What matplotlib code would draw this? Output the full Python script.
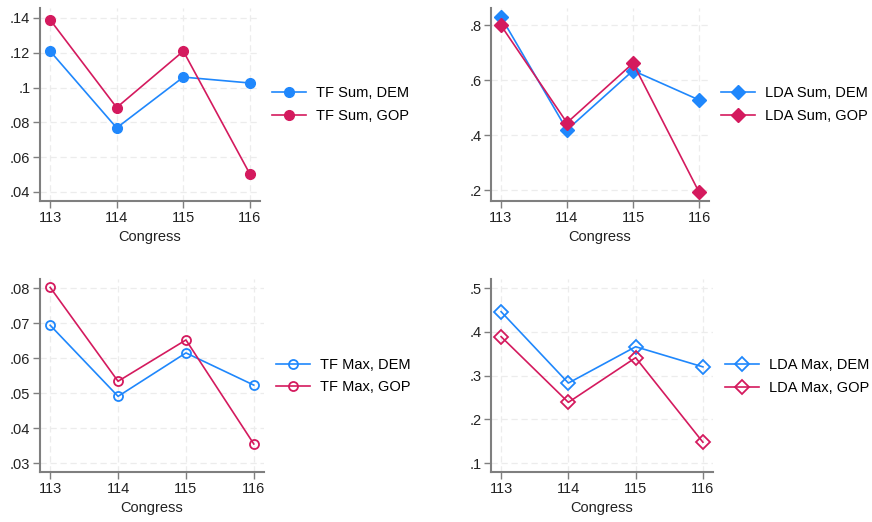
import matplotlib.pyplot as plt

plt.rcParams['font.family'] = ['Liberation Sans', 'DejaVu Sans']

congress = [113, 114, 115, 116]

tf_sum_dem = [0.121, 0.0768, 0.106, 0.1026]
tf_sum_gop = [0.139, 0.0885, 0.1209, 0.0502]
lda_sum_dem = [0.831, 0.419, 0.635, 0.528]
lda_sum_gop = [0.800, 0.445, 0.662, 0.192]
tf_max_dem = [0.0694, 0.0491, 0.0615, 0.0523]
tf_max_gop = [0.0802, 0.0534, 0.0652, 0.0355]
lda_max_dem = [0.446, 0.283, 0.366, 0.320]
lda_max_gop = [0.389, 0.239, 0.341, 0.148]

tf_sum_ticks = [0.04, 0.06, 0.08, 0.10, 0.12, 0.14]
tf_sum_labels = ['.04', '.06', '.08', '.1', '.12', '.14']
lda_sum_ticks = [0.2, 0.4, 0.6, 0.8]
lda_sum_labels = ['.2', '.4', '.6', '.8']
tf_max_ticks = [0.03, 0.04, 0.05, 0.06, 0.07, 0.08]
tf_max_labels = ['.03', '.04', '.05', '.06', '.07', '.08']
lda_max_ticks = [0.1, 0.2, 0.3, 0.4, 0.5]
lda_max_labels = ['.1', '.2', '.3', '.4', '.5']

BLUE = '#1f87fc'
RED = '#d41a5e'
W, H = 872, 522

fig = plt.figure(figsize=(W / 100, H / 100), dpi=100)


def px_axes(x0, y0, x1, y1):
    # pixel box (top-left origin) -> figure axes
    return fig.add_axes([x0 / W, 1 - y1 / H, (x1 - x0) / W, (y1 - y0) / H])


def panel(box, dem, gop, name, marker, hollow, ticks, labels, ylim, leg_xy):
    ax = px_axes(*box)
    ms = 7 if not hollow else 6.5
    if marker == 'D':
        ms = 7.5 if not hollow else 7
    for vals, col, lab in [(dem, BLUE, name + ', DEM'), (gop, RED, name + ', GOP')]:
        ax.plot(congress, vals, color=col, lw=1.2, marker=marker, ms=ms,
                mfc='none' if hollow else col, mec=col,
                mew=1.3 if hollow else 1, label=lab, zorder=3)
    ax.set_xlim(112.85, 116.15)
    ax.set_ylim(*ylim)
    ax.set_xticks(congress)
    ax.set_yticks(ticks)
    ax.set_yticklabels(labels)
    ax.set_xlabel('Congress', fontsize=10.5, labelpad=4, color='#222222')
    ax.grid(True, color='#ececec', lw=0.9, ls=(0, (5, 3)), zorder=0)
    for s in ['top', 'right']:
        ax.spines[s].set_visible(False)
    for s in ['left', 'bottom']:
        ax.spines[s].set_color('#7f7f7f')
        ax.spines[s].set_linewidth(1.5)
    ax.tick_params(axis='both', labelsize=10.5, colors='#222222', length=5,
                   width=1, pad=2, color='#7f7f7f')
    ax.legend(loc='center left', bbox_to_anchor=(leg_xy[0] / W, 1 - leg_xy[1] / H),
              bbox_transform=fig.transFigure, frameon=False, fontsize=10.5,
              handlelength=2.35, handletextpad=0.7, labelspacing=0.58,
              borderpad=0, borderaxespad=0)
    return ax


panel((40, 8, 260, 201), tf_sum_dem, tf_sum_gop, 'TF Sum', 'o', False,
      tf_sum_ticks, tf_sum_labels, (0.0348, 0.1457), (272, 104.5))
panel((491, 8, 709, 201), lda_sum_dem, lda_sum_gop, 'LDA Sum', 'D', False,
      lda_sum_ticks, lda_sum_labels, (0.16, 0.863), (721, 104.5))
panel((40, 279, 264, 472), tf_max_dem, tf_max_gop, 'TF Max', 'o', True,
      tf_max_ticks, tf_max_labels, (0.0275, 0.0826), (276, 376))
panel((491, 279, 713, 472), lda_max_dem, lda_max_gop, 'LDA Max', 'D', True,
      lda_max_ticks, lda_max_labels, (0.080, 0.5206), (725, 376.5))

fig.savefig('out.png', dpi=100, facecolor='white')
